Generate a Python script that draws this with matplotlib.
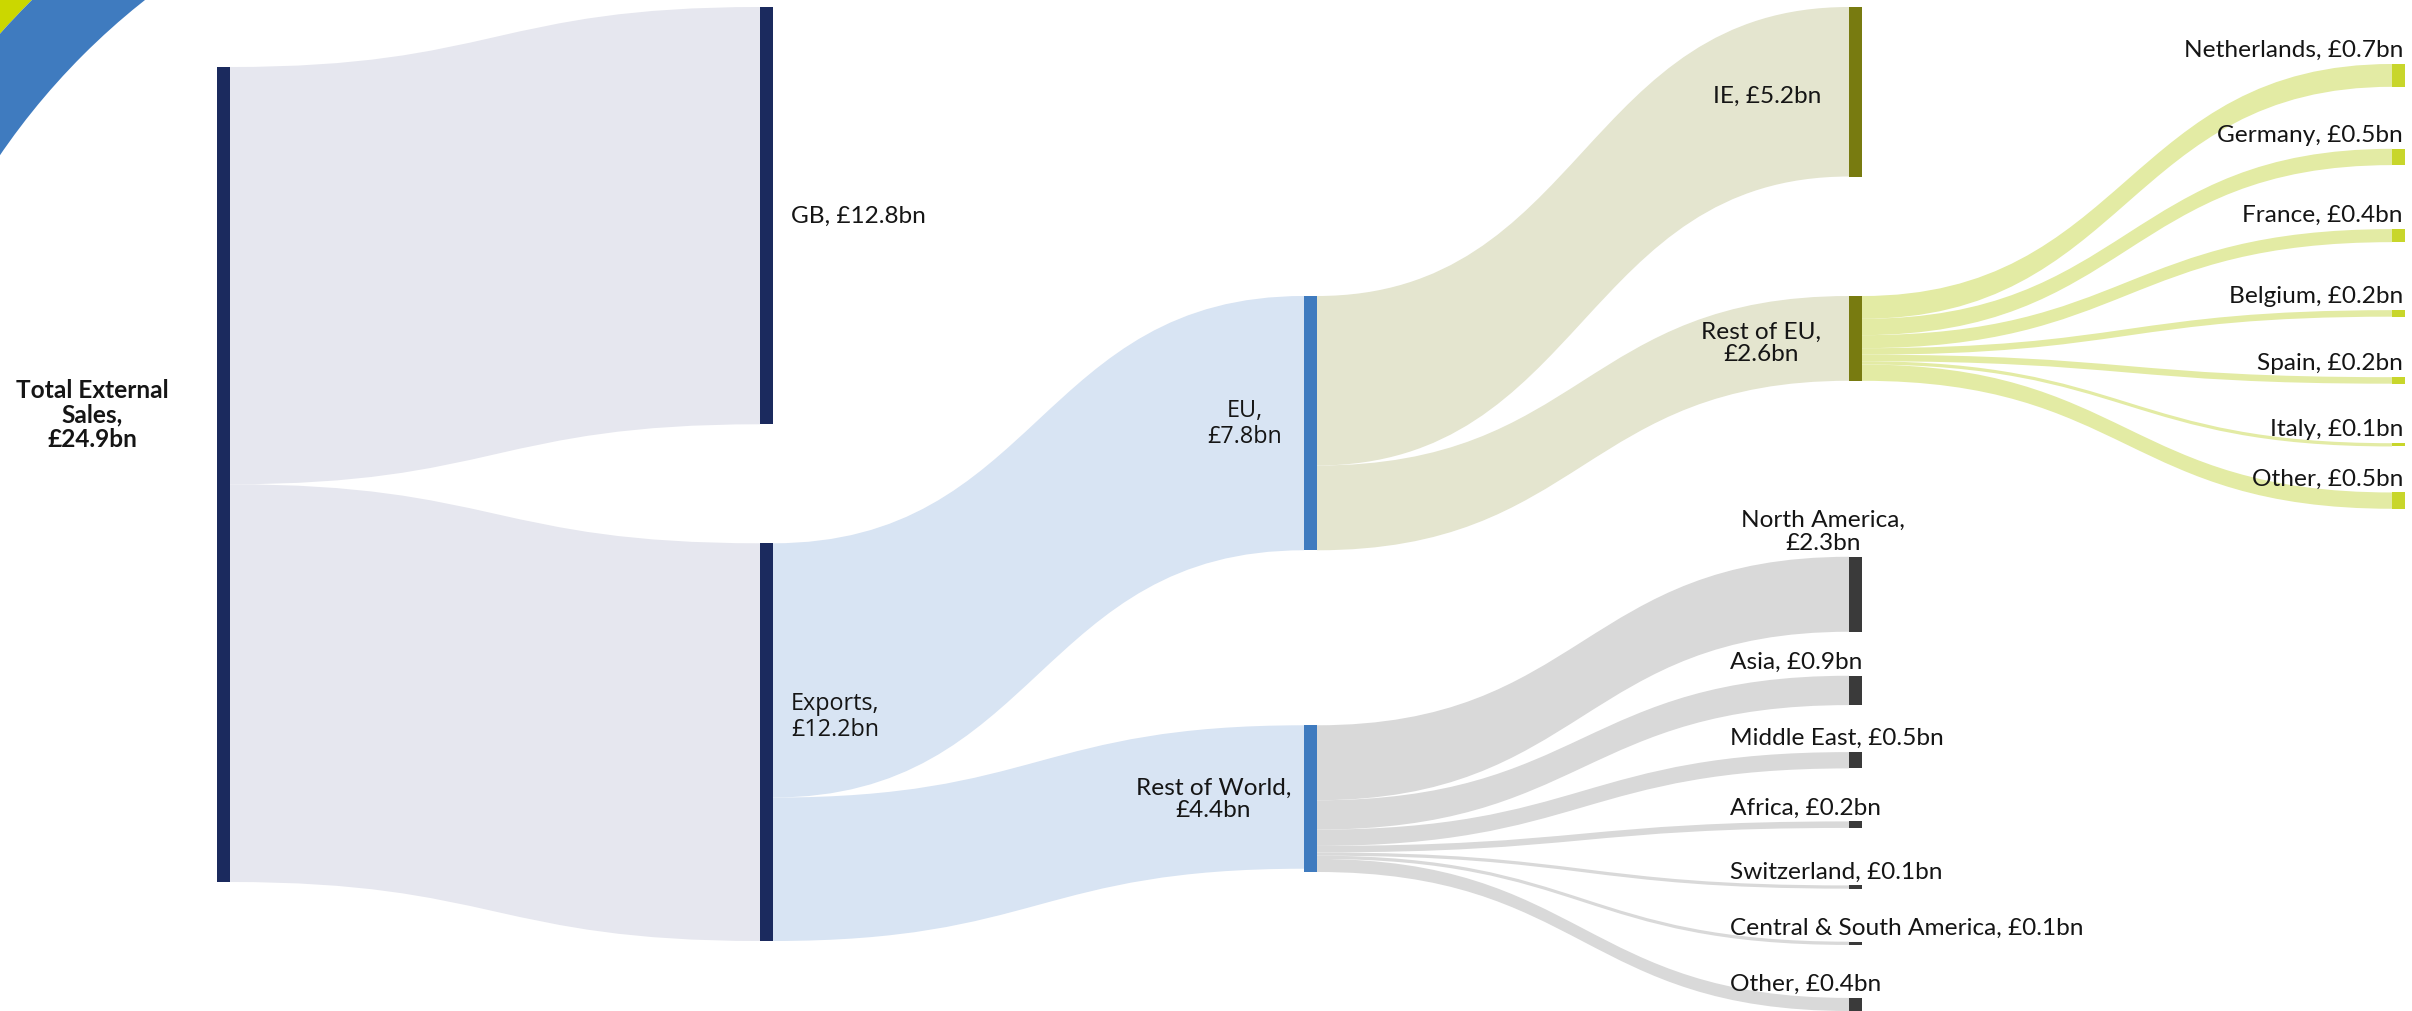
import matplotlib
matplotlib.use("Agg")
import matplotlib.pyplot as plt
from matplotlib.path import Path
from matplotlib.patches import PathPatch, Rectangle, Wedge

# ---- data (bn) ----
node_names = ["Total", "GB", "Exports", "EU", "RoW",
              "IE", "RestEU", "NorthAmerica", "Asia", "MiddleEast", "Africa",
              "Switzerland", "CentralSouthAmerica", "OtherRoW",
              "Netherlands", "Germany", "France", "Belgium", "Spain", "Italy", "OtherEU"]
node_labels = ["Total External\nSales,\n£24.9bn", "GB, £12.8bn", "Exports,\n£12.2bn",
               "EU,\n£7.8bn", "Rest of World,\n£4.4bn",
               "IE, £5.2bn", "Rest of EU,\n£2.6bn", "North America,\n£2.3bn",
               "Asia, £0.9bn", "Middle East, £0.5bn", "Africa, £0.2bn",
               "Switzerland, £0.1bn", "Central & South America, £0.1bn", "Other, £0.4bn",
               "Netherlands, £0.7bn", "Germany, £0.5bn", "France, £0.4bn",
               "Belgium, £0.2bn", "Spain, £0.2bn", "Italy, £0.1bn", "Other, £0.5bn"]
node_column = [0, 1, 1, 2, 2, 3, 3, 3, 3, 3, 3, 3, 3, 3, 4, 4, 4, 4, 4, 4, 4]

link_source = [0, 0, 2, 2, 3, 3,
               6, 6, 6, 6, 6, 6, 6,
               4, 4, 4, 4, 4, 4, 4]
link_target = [1, 2, 3, 4, 5, 6,
               14, 15, 16, 17, 18, 19, 20,
               7, 8, 9, 10, 11, 12, 13]
link_value = [12.8, 12.2, 7.8, 4.4, 5.2, 2.6,
              0.7, 0.5, 0.4, 0.2, 0.2, 0.1, 0.5,
              2.3, 0.9, 0.5, 0.2, 0.1, 0.1, 0.4]

# ---- layout / style ----
W, H = 2412, 1012
PX_PER_BN = 32.6
col_x = [217, 760, 1304, 1849, 2392]
node_w = 13
col_first_top = [68, 8, 297, 8, 65]
# gap (px) above each node, after the previous one in its column
node_gap = [0, 0, 119, 0, 175,
            0, 119.5, 176, 44, 47, 53, 57.5, 53, 53,
            0, 62, 64, 68, 60.5, 59.5, 46]

navy, blue, olive, dgrey, lime = "#1b2a5e", "#3f7bbf", "#787b10", "#3a3a3a", "#c8d62b"
node_color = [navy, navy, navy, blue, blue, olive, olive] + [dgrey] * 7 + [lime] * 7
link_color_by_source = {0: "#e6e7ef", 2: "#d8e4f3", 3: "#e4e5cf", 4: "#d9d9d9", 6: "#e3eba4"}

FONT = "Lato"
FONT2 = "Open Sans"
FS = 17.6
FS2 = 16.8
txt_col = "#151515"

# node sizes from links
n = len(node_names)
inflow = [0.0] * n
outflow = [0.0] * n
for s, t, v in zip(link_source, link_target, link_value):
    outflow[s] += v
    inflow[t] += v
node_val = [max(a, b) for a, b in zip(inflow, outflow)]

node_top = [0.0] * n
last_bottom = {}
for i in range(n):
    c = node_column[i]
    if c not in last_bottom:
        top = col_first_top[c]
    else:
        top = last_bottom[c] + node_gap[i]
    node_top[i] = top
    last_bottom[c] = top + node_val[i] * PX_PER_BN

fig = plt.figure(figsize=(W / 100, H / 100), dpi=100)
ax = fig.add_axes([0, 0, 1, 1])
ax.set_xlim(0, W)
ax.set_ylim(H, 0)
ax.axis("off")

# corner decoration (only the arc segment in the top-left corner)
ax.add_patch(Wedge((578, 551), 900, 200, 250, width=125, facecolor="#cbd700", edgecolor="none", zorder=0))
ax.add_patch(Wedge((578, 551), 775, 200, 250, width=75, facecolor=blue, edgecolor="none", zorder=0))

# links
src_off = [0.0] * n
tgt_off = [0.0] * n
for s, t, v in zip(link_source, link_target, link_value):
    h = v * PX_PER_BN
    x0 = col_x[node_column[s]] + node_w
    x1 = col_x[node_column[t]]
    a0 = node_top[s] + src_off[s]
    a1 = a0 + h
    b0 = node_top[t] + tgt_off[t]
    b1 = b0 + h
    src_off[s] += h
    tgt_off[t] += h
    xm = (x0 + x1) / 2
    verts = [(x0, a0), (xm, a0), (xm, b0), (x1, b0),
             (x1, b1), (xm, b1), (xm, a1), (x0, a1), (x0, a0)]
    codes = [Path.MOVETO, Path.CURVE4, Path.CURVE4, Path.CURVE4,
             Path.LINETO, Path.CURVE4, Path.CURVE4, Path.CURVE4, Path.CLOSEPOLY]
    ax.add_patch(PathPatch(Path(verts, codes), facecolor=link_color_by_source[s],
                           edgecolor="none", zorder=1))

# nodes
for i in range(n):
    ax.add_patch(Rectangle((col_x[node_column[i]], node_top[i]), node_w,
                           node_val[i] * PX_PER_BN, facecolor=node_color[i],
                           edgecolor="none", zorder=2))

# labels
for i in range(n):
    c = node_column[i]
    top = node_top[i]
    mid = top + node_val[i] * PX_PER_BN / 2
    x = col_x[c]
    kw = dict(color=txt_col, fontsize=FS, family=FONT, zorder=3, linespacing=1.1)
    name = node_names[i]
    if c == 0:
        ax.text(92, 415, node_labels[i], ha="center", va="center", multialignment="center",
                fontweight="bold", **kw)
    elif c == 1:
        dy = -26 if name == "Exports" else 0
        if name == "Exports":
            kw["family"] = FONT2
            kw["fontsize"] = FS2
        ax.text(x + node_w + 18, mid + dy, node_labels[i], ha="left", va="center",
                multialignment="left", **kw)
    elif c == 2:
        if name == "EU":
            kw["family"] = FONT2
            kw["fontsize"] = FS2
            off = 22
        else:
            off = 13
        ax.text(x - off, mid, node_labels[i], ha="right", va="center",
                multialignment="center", **kw)
    elif c == 3 and name in ("IE", "RestEU"):
        ax.text(x - 28, mid + 4, node_labels[i], ha="right", va="center",
                multialignment="center", **kw)
    elif c == 3:
        if name == "NorthAmerica":
            ax.text(x - 26, top - 4, node_labels[i], ha="center", va="bottom",
                    multialignment="center", **kw)
        else:
            ax.text(x - 119, top - 4, node_labels[i], ha="left", va="bottom", **kw)
    else:
        ax.text(x + node_w - 2, top - 4, node_labels[i], ha="right", va="bottom", **kw)

fig.savefig("out.png", dpi=100, facecolor="white")
